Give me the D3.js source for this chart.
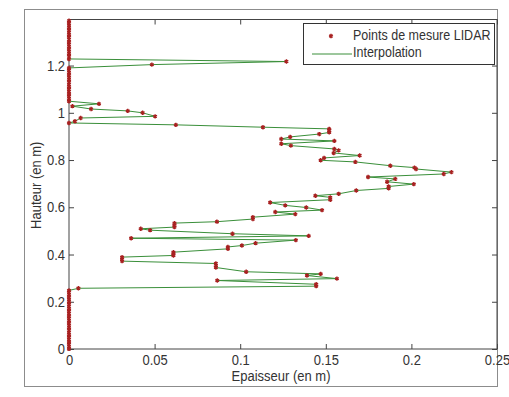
<!DOCTYPE html>
<html>
<head>
<meta charset="utf-8">
<script src="https://cdn.jsdelivr.net/npm/d3@7"></script>
<style>
  body { margin: 0; background: #fff; }
  text { font-family: "Liberation Sans", Arial, sans-serif; fill: #333; }
</style>
</head>
<body>
<svg id="chart" width="509" height="397"></svg>
<script>
// hauteur (m) of each LIDAR point, bottom to top
const hauteur = [
  0, 0.01, 0.02, 0.03, 0.04, 0.05, 0.06, 0.07, 0.08, 0.09, 0.10, 0.11, 0.12,
  0.13, 0.14, 0.15, 0.16, 0.17, 0.18, 0.19, 0.20, 0.21, 0.22, 0.23, 0.24, 0.248,
  0.257, 0.266, 0.274, 0.290, 0.298, 0.311, 0.318, 0.327, 0.345, 0.353, 0.362,
  0.372, 0.380, 0.389, 0.396, 0.402, 0.410, 0.424, 0.432, 0.438, 0.448, 0.461,
  0.469, 0.479, 0.488, 0.503, 0.509, 0.516, 0.525, 0.533, 0.539, 0.550, 0.558,
  0.571, 0.580, 0.588, 0.599, 0.608, 0.620, 0.632, 0.642, 0.649, 0.657, 0.671,
  0.680, 0.688, 0.698, 0.708, 0.720, 0.728, 0.741, 0.749, 0.762, 0.768, 0.776,
  0.792, 0.799, 0.809, 0.819, 0.830, 0.841, 0.847, 0.861, 0.869, 0.881, 0.889,
  0.898, 0.910, 0.917, 0.925, 0.932, 0.939, 0.949, 0.957, 0.964, 0.978, 0.985,
  1.000, 1.008, 1.016, 1.028, 1.038, 1.049,
  1.06, 1.07, 1.08, 1.09, 1.10, 1.11, 1.12, 1.13, 1.14, 1.15, 1.16, 1.17, 1.18, 1.19,
  1.204, 1.217,
  1.228, 1.24, 1.25, 1.26, 1.27, 1.28, 1.29, 1.30, 1.31, 1.32, 1.33, 1.34, 1.35,
  1.36, 1.37, 1.38, 1.39
];
// epaisseur (m) measured at each height
const epaisseur = [
  0, 0, 0, 0, 0, 0, 0, 0, 0, 0, 0, 0, 0,
  0, 0, 0, 0, 0, 0, 0, 0, 0, 0, 0, 0, 0,
  0.0055, 0.1444, 0.1444, 0.0866, 0.1565, 0.139, 0.147, 0.1035, 0.0858, 0.0858, 0.0858,
  0.031, 0.031, 0.031, 0.061, 0.061, 0.061, 0.0928, 0.0928, 0.101, 0.109, 0.1325,
  0.0363, 0.140, 0.0955, 0.0474, 0.0419, 0.0616, 0.0616, 0.0616, 0.0864, 0.1074, 0.1074,
  0.1322, 0.1205, 0.1478, 0.1386, 0.1263, 0.1175, 0.1526, 0.1526, 0.1439, 0.1575, 0.1678,
  0.1867, 0.1867, 0.2014, 0.1858, 0.1906, 0.1747, 0.2189, 0.2234, 0.2027, 0.2018, 0.1877,
  0.1673, 0.147, 0.149, 0.1698, 0.1546, 0.1575, 0.155, 0.1296, 0.124, 0.155, 0.124,
  0.1292, 0.1462, 0.152, 0.152, 0.152, 0.1133, 0.0624, 0, 0.0035, 0.0068, 0.0503,
  0.043, 0.0343, 0.0129, 0.002, 0.0175, 0,
  0, 0, 0, 0, 0, 0, 0, 0, 0, 0, 0, 0, 0, 0,
  0.0484, 0.127,
  0, 0, 0, 0, 0, 0, 0, 0, 0, 0, 0, 0, 0,
  0, 0, 0, 0
];
const xTicks = [0, 0.05, 0.1, 0.15, 0.2, 0.25];
const yTicks = [0, 0.2, 0.4, 0.6, 0.8, 1, 1.2];
const legendLabels = ["Points de mesure LIDAR", "Interpolation"];
const xTitle = "Epaisseur (en m)";
const yTitle = "Hauteur (en m)";

var svg = d3.select("#chart");
var m = { l: 69, r: 497, t: 19.5, b: 349 };

var x = d3.scaleLinear().domain([0, 0.25]).range([m.l, m.r]);
var y = d3.scaleLinear().domain([0, 1.395]).range([m.b, m.t]);

// figure frame
svg.append("rect")
  .attr("x", 24.5).attr("y", 9.5).attr("width", 473).attr("height", 377)
  .attr("fill", "#fff").attr("stroke", "#8c8c8c");

// axes background
svg.append("rect")
  .attr("x", m.l).attr("y", m.t).attr("width", m.r - m.l).attr("height", m.b - m.t)
  .attr("fill", "#fff");

var fmt = d3.format("~g");

function styleAxis(g) {
  g.select(".domain").remove();
  g.selectAll("line").attr("stroke", "#444");
  g.attr("font-family", null).attr("font-size", null);
  g.selectAll("text").style("font-size", "13px").attr("fill", "#3a3a3a")
    .attr("transform", "scale(1,1.12)");
}

svg.append("g").attr("transform", "translate(0," + m.b + ")")
  .call(d3.axisBottom(x).tickValues(xTicks).tickFormat(fmt).tickSize(-5).tickPadding(5))
  .call(styleAxis);
svg.append("g").attr("transform", "translate(0," + m.t + ")")
  .call(d3.axisTop(x).tickValues(xTicks).tickFormat("").tickSize(-5))
  .call(styleAxis);
svg.append("g").attr("transform", "translate(" + m.l + ",0)")
  .call(d3.axisLeft(y).tickValues(yTicks).tickFormat(fmt).tickSize(-5).tickPadding(4))
  .call(styleAxis);
svg.append("g").attr("transform", "translate(" + m.r + ",0)")
  .call(d3.axisRight(y).tickValues(yTicks).tickFormat("").tickSize(-5))
  .call(styleAxis);

// axes box
svg.append("rect")
  .attr("x", m.l).attr("y", m.t).attr("width", m.r - m.l).attr("height", m.b - m.t)
  .attr("fill", "none").attr("stroke", "#444");

// axis titles
svg.append("text")
  .attr("transform", "translate(" + ((m.l + m.r) / 2 - 2) + ",381) scale(1,1.12)")
  .attr("text-anchor", "middle").style("font-size", "13px")
  .text(xTitle);
svg.append("text")
  .attr("transform", "translate(41," + ((m.t + m.b) / 2 + 1) + ") rotate(-90) scale(1,1.12)")
  .attr("text-anchor", "middle").style("font-size", "13px")
  .text(yTitle);

// data
var pts = hauteur.map(function(h, i) { return [epaisseur[i], h]; });

svg.append("clipPath").attr("id", "clip")
  .append("rect").attr("x", m.l - 4).attr("y", m.t - 2)
  .attr("width", m.r - m.l + 8).attr("height", m.b - m.t + 4);

var plot = svg.append("g").attr("clip-path", "url(#clip)");

var line = d3.line()
  .x(function(d) { return x(d[0]); })
  .y(function(d) { return y(d[1]); });

plot.append("path")
  .datum(pts)
  .attr("d", line)
  .attr("fill", "none")
  .attr("stroke", "#3a8f3a")
  .attr("stroke-width", 1);

var star = d3.symbol().type(d3.symbolAsterisk || d3.symbolCross).size(13);
var red = "#a82020";

plot.selectAll(".pt")
  .data(pts)
  .enter().append("path")
  .attr("class", "pt")
  .attr("transform", function(d) { return "translate(" + x(d[0]) + "," + y(d[1]) + ")"; })
  .attr("d", star)
  .attr("fill", d3.symbolAsterisk ? "none" : red)
  .attr("stroke", red)
  .attr("stroke-width", 1.4);

// legend
var lg = svg.append("g");
lg.append("rect")
  .attr("x", 303.5).attr("y", 23.5).attr("width", 191).attr("height", 41)
  .attr("fill", "#fff").attr("stroke", "#333");
lg.append("path")
  .attr("transform", "translate(331,36)")
  .attr("d", star)
  .attr("fill", d3.symbolAsterisk ? "none" : red)
  .attr("stroke", red).attr("stroke-width", 1.4);
lg.append("line")
  .attr("x1", 312).attr("x2", 352).attr("y1", 54).attr("y2", 54)
  .attr("stroke", "#3a8f3a");
lg.selectAll(".lt")
  .data(legendLabels)
  .enter().append("text")
  .attr("class", "lt")
  .attr("transform", function(d, i) { return "translate(353," + (40 + i * 17) + ") scale(1,1.12)"; })
  .style("font-size", "12.5px")
  .text(function(d) { return d; });
</script>
</body>
</html>
